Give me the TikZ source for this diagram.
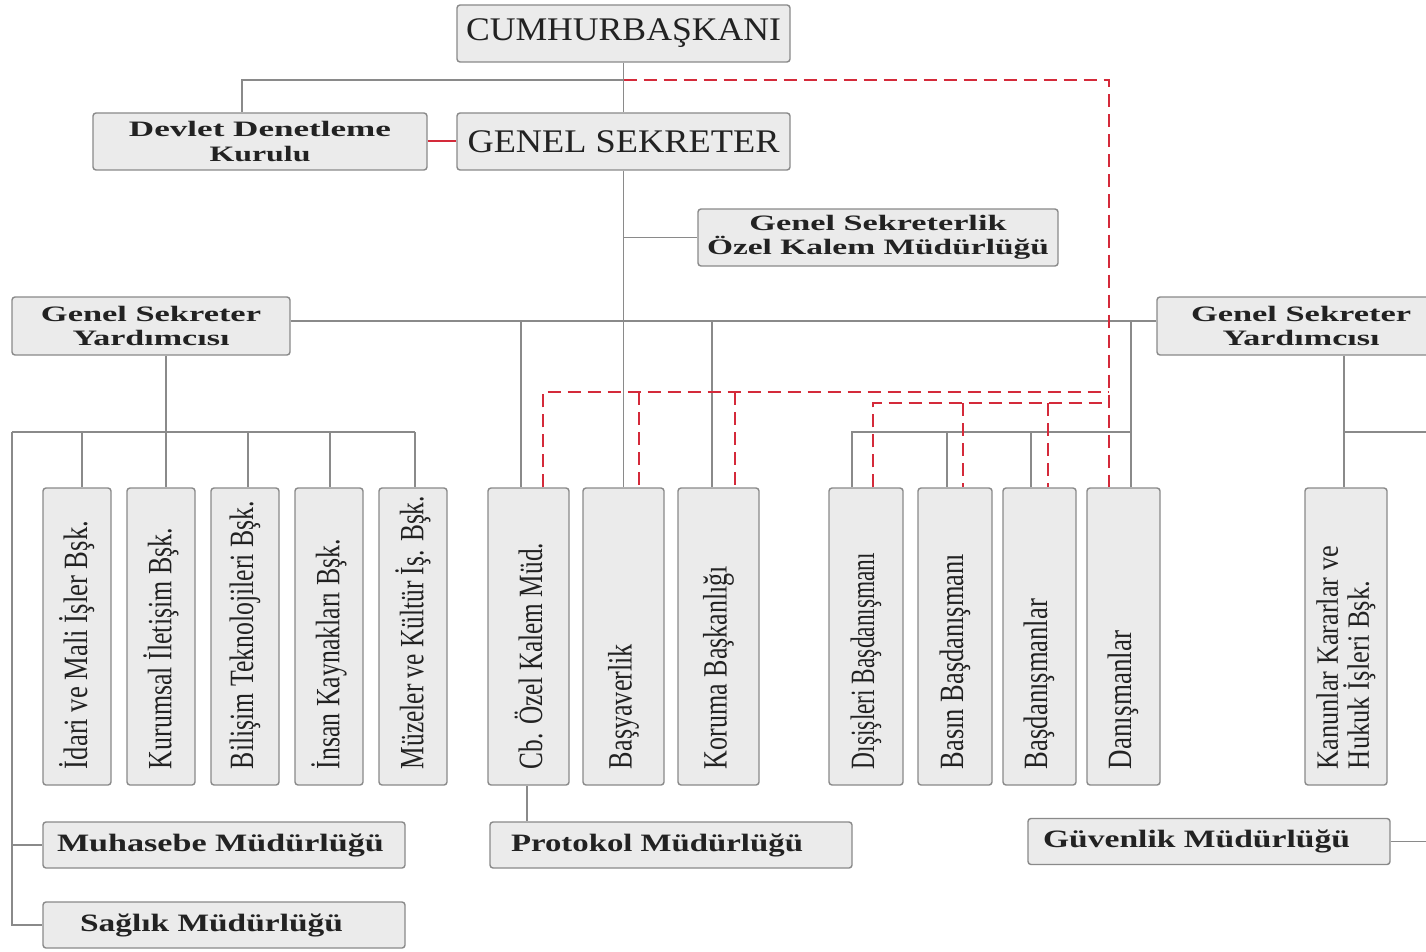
\documentclass[tikz,border=0pt]{standalone}
\usepackage{fontspec}
\setmainfont{Liberation Serif}
\usepackage{graphicx}
\definecolor{boxfill}{HTML}{EBEBEB}
\definecolor{boxdraw}{HTML}{8A8A8A}
\definecolor{linegray}{HTML}{8A8A8A}
\definecolor{dashred}{HTML}{D42A3A}
\definecolor{textcol}{HTML}{222222}
\newcommand{\sw}[2]{\resizebox{#1pt}{\height}{#2}}
\newcommand{\vtext}[2]{\rotatebox{90}{\makebox[265pt][l]{\sw{#1}{#2}}}}
\tikzset{
  box/.style={draw=boxdraw, fill=boxfill, rounded corners=3pt, line width=1.4pt, inner sep=0pt, text=textcol},
  hbox/.style={box, align=center, font=\fontsize{22}{24.5}\selectfont\bfseries},
  bigbox/.style={box, font=\fontsize{33}{34}\selectfont, minimum width=333pt, minimum height=57pt},
  vbox/.style={box, minimum height=297pt, font=\fontsize{34}{34}\selectfont},
  lowbox/.style={box, minimum width=362pt, minimum height=46pt, font=\fontsize{25}{26}\selectfont\bfseries},
  conn/.style={draw=linegray, line width=1.1pt},
  redsolid/.style={draw=dashred, line width=2pt},
  reddash/.style={draw=dashred, line width=1.8pt, dash pattern=on 13pt off 7pt},
}
\begin{document}
\begin{tikzpicture}[x=1pt, y=-1pt]
\useasboundingbox (0,0) rectangle (1426,952);
\clip (0,0) rectangle (1426,952);
\fill[white] (0,0) rectangle (1426,952);

% top
\node[bigbox] (cb) at (623.5,33.5) {\sw{315}{CUMHURBAŞKANI}};
\node[bigbox] (gs) at (623.5,141.5) {\sw{312}{GENEL SEKRETER}};
\node[hbox, minimum width=334pt, minimum height=57pt] (ddk) at (260,141.5)
  {\sw{262}{Devlet Denetleme}\\\sw{101}{Kurulu}};
\node[hbox, minimum width=360pt, minimum height=57pt] (gsok) at (878,237.5)
  {\sw{257}{Genel Sekreterlik}\\\sw{342}{Özel Kalem Müdürlüğü}};
\node[hbox, minimum width=278pt, minimum height=58pt] (gsyl) at (151,326)
  {\sw{220}{Genel Sekreter}\\\sw{157}{Yardımcısı}};
\node[hbox, minimum width=288pt, minimum height=58pt] (gsyr) at (1301,326)
  {\sw{220}{Genel Sekreter}\\\sw{157}{Yardımcısı}};

% vertical boxes
\node[vbox, minimum width=68pt] (ida) at (77,636.5) {\vtext{248}{İdari ve Mali  İşler Bşk.}};
\node[vbox, minimum width=68pt] (kur) at (161,636.5) {\vtext{241}{Kurumsal İletişim Bşk.}};
\node[vbox, minimum width=68pt] (bil) at (245,636.5) {\vtext{268}{Bilişim Teknolojileri Bşk.}};
\node[vbox, minimum width=68pt] (ins) at (329,636.5) {\vtext{230}{İnsan Kaynakları Bşk.}};
\node[vbox, minimum width=68pt] (muz) at (413,636.5) {\vtext{273}{Müzeler ve Kültür İş. Bşk.}};
\node[vbox, minimum width=81pt] (cbo) at (528.5,636.5) {\vtext{226}{Cb. Özel Kalem Müd.}};
\node[vbox, minimum width=81pt] (bay) at (623.5,636.5) {\vtext{125}{Başyaverlik}};
\node[vbox, minimum width=81pt] (kor) at (718.5,636.5) {\vtext{203}{Koruma Başkanlığı}};
\node[vbox, minimum width=74pt] (dis) at (866,636.5) {\vtext{216}{Dışişleri Başdanışmanı}};
\node[vbox, minimum width=74pt] (bas) at (955,636.5) {\vtext{215}{Basın Başdanışmanı}};
\node[vbox, minimum width=73pt] (bdn) at (1039.5,636.5) {\vtext{170}{Başdanışmanlar}};
\node[vbox, minimum width=73pt] (dan) at (1123.5,636.5) {\vtext{138}{Danışmanlar}};
\node[vbox, minimum width=82pt] (kan) at (1346,636.5)
  {\rotatebox{90}{\parbox{265pt}{\fontsize{31}{31}\selectfont\raggedright\sw{223}{Kanunlar Kararlar ve}\\\sw{188}{Hukuk İşleri Bşk.}}}};

% lower boxes
\node[lowbox] (muh) at (224,845) {\makebox[362pt][l]{\hspace{14pt}\sw{327}{Muhasebe Müdürlüğü}}};
\node[lowbox] (sag) at (224,925) {\makebox[362pt][l]{\hspace{37pt}\sw{263}{Sağlık Müdürlüğü}}};
\node[lowbox] (pro) at (671,845) {\makebox[362pt][l]{\hspace{21pt}\sw{292}{Protokol Müdürlüğü}}};
\node[lowbox] (guv) at (1209,841.5) {\makebox[362pt][l]{\hspace{15pt}\sw{307}{Güvenlik Müdürlüğü}}};

% junction coordinates
\coordinate (j80) at (623.5,80);
\coordinate (jr80) at (1109,80);
\coordinate (j237) at (623.5,237.5);
\coordinate (jl432) at (12,432);
\coordinate (jr432) at (1440,432);

% gray connectors
\draw[conn] (cb.south) -- (gs.north);
\draw[conn] (j80) -| (ddk.north -| 242,0);
\draw[conn] (gs.south) -- (bay.north);
\draw[conn] (j237) -- (gsok.west);
\draw[conn] (gsyl.east |- 0,321) -- (gsyr.west |- 0,321);
\draw[conn] (521,321) -- (521,0 |- cbo.north);
\draw[conn] (712,321) -- (712,0 |- kor.north);
\draw[conn] (1131,321) -- (1131,0 |- dan.north);
\draw[conn] (852,0 |- dis.north) |- (1131,432);
\draw[conn] (947,432) -- (947,0 |- bas.north);
\draw[conn] (1031,432) -- (1031,0 |- bdn.north);
% left group
\draw[conn] (166,0 |- gsyl.south) -- (166,0 |- kur.north);
\draw[conn] (jl432) -- (415,432);
\draw[conn] (82,432) -- (82,0 |- ida.north);
\draw[conn] (248,432) -- (248,0 |- bil.north);
\draw[conn] (330,432) -- (330,0 |- ins.north);
\draw[conn] (415,432) -- (415,0 |- muz.north);
\draw[conn] (jl432) |- (sag.west);
\draw[conn] (12,845) -- (muh.west);
\draw[conn] (527,0 |- cbo.south) -- (527,0 |- pro.north);
% right group
\draw[conn] (1344,0 |- gsyr.south) -- (1344,0 |- kan.north);
\draw[conn] (1344,432) -- (jr432);
\draw[conn] (guv.east) -- (1440,0 |- guv.east);

% red
\draw[redsolid] (ddk.east) -- (gs.west);
\draw[reddash] (j80) -- (jr80) -- (1109,0 |- dan.north);
\draw[reddash] (543,0 |- cbo.north) |- (1109,392);
\draw[reddash] (639,392) -- (639,0 |- bay.north);
\draw[reddash] (735,392) -- (735,0 |- kor.north);
\draw[reddash] (873,0 |- dis.north) |- (1109,403);
\draw[reddash] (963,403) -- (963,0 |- bas.north);
\draw[reddash] (1048,403) -- (1048,0 |- bdn.north);
\end{tikzpicture}
\end{document}
